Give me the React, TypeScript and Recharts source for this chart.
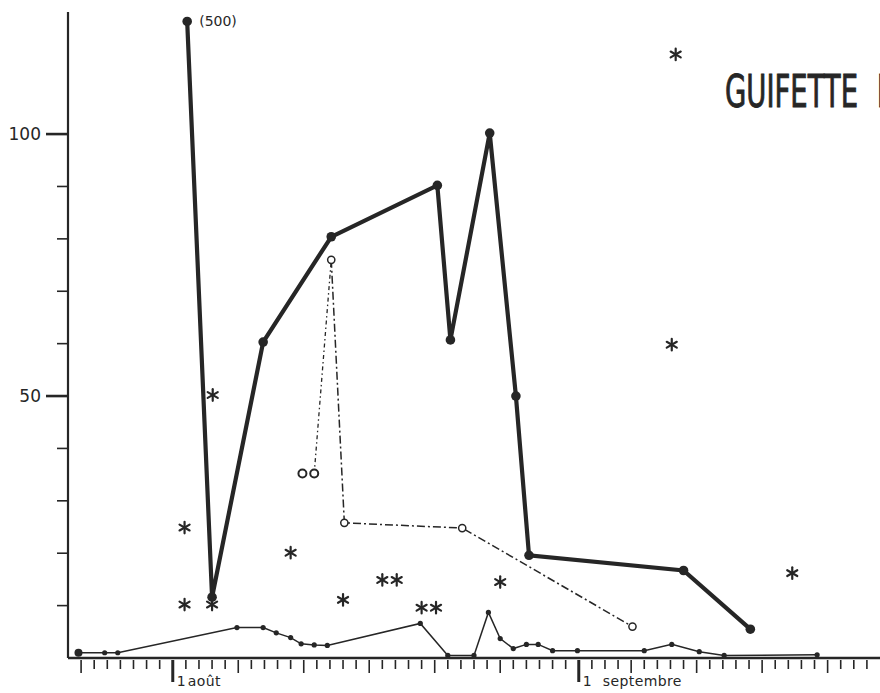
import { ComposedChart, Line, Scatter, XAxis, YAxis } from "recharts";

// days counted from 31 July (1 = 1 août, 32 = 1 septembre)
const mainDays = [2.1, 4, 7.9, 13.1, 21.2, 22.2, 25.2, 27.2, 28.2, 40, 45.1];
const mainCounts = [121.5, 11.6, 60.3, 80.4, 90.2, 60.7, 100.2, 50, 19.6, 16.7, 5.5];
const mainLabels = ["(500)", "", "", "", "", "", "", "", "", "", ""];

const openDays = [13.1, 14.1, 23.1, 36.1];
const openCounts = [76, 25.8, 24.8, 6];

const pairDays = [10.9, 11.8];
const pairCounts = [35.2, 35.2];

const lowDays = [
  -6.2, -4.2, -3.2, 5.9, 7.9, 8.9, 10, 10.8, 11.8, 12.8, 19.9, 22, 24, 25.1, 26, 27, 28, 28.9, 30,
  31.9, 37, 39.1, 41.2, 43.1, 50.2,
];
const lowCounts = [
  1, 1, 1, 5.8, 5.8, 4.8, 3.9, 2.7, 2.5, 2.4, 6.6, 0.5, 0.5, 8.7, 3.7, 1.8, 2.6, 2.6, 1.4, 1.4, 1.4,
  2.6, 1.2, 0.5, 0.6,
];

const starDays = [39.4, 39.1, 4.05, 1.9, 10, 1.9, 4, 14, 17, 18.1, 20, 21.1, 26, 48.3];
const starCounts = [115.2, 59.8, 50.2, 24.9, 20.1, 10.2, 10.2, 11.1, 14.9, 14.9, 9.6, 9.6, 14.5, 16.2];

const dayTicks = Array.from({ length: 61 }, (_, i) => i - 6);
const longDayTicks = [-6, 6, 11, 16, 21, 26, 36, 41, 46, 51];
const monthTicks: Record<number, string> = { 1: "août", 32: "septembre" };
const monthGap: Record<number, number> = { 1: 15, 32: 24 };

const countTicks = [10, 20, 30, 40, 50, 60, 70, 80, 90, 100];
const labelledCounts = [50, 100];

const INK = "#262626";
const AXIS_X = 68;
const AXIS_Y = 659;
const FONT = "'DejaVu Sans', sans-serif";
const TITLE_FONT = "'Liberation Sans Narrow', 'DejaVu Sans Condensed', sans-serif";

const zip = (ds: number[], vs: number[]) => ds.map((d, i) => ({ d, v: vs[i] }));

const mainData = mainDays.map((d, i) => ({ d, v: mainCounts[i], label: mainLabels[i] }));
const openData = zip(openDays, openCounts);
const pairData = zip(pairDays, pairCounts);
const riseData = [pairData[1], openData[0]];
const lowData = zip(lowDays, lowCounts);
const starData = zip(starDays, starCounts);

function Star({ cx, cy }: { cx?: number; cy?: number }) {
  if (cx == null || cy == null) return null;
  const r = 5.8;
  const arms = [90, 30, 150].map((a) => (a * Math.PI) / 180);
  return (
    <g stroke={INK} strokeWidth={2.2} strokeLinecap="round">
      {arms.map((a, i) => (
        <line
          key={i}
          x1={cx - r * Math.cos(a)}
          y1={cy - r * Math.sin(a)}
          x2={cx + r * Math.cos(a)}
          y2={cy + r * Math.sin(a)}
        />
      ))}
    </g>
  );
}

function DayTick(props: any) {
  const { x, payload } = props;
  const d = payload.value as number;
  const month = monthTicks[d];
  const long = longDayTicks.includes(d);
  return (
    <g>
      <line
        x1={x}
        x2={x}
        y1={AXIS_Y + 1}
        y2={month ? AXIS_Y + 23 : long ? AXIS_Y + 14 : AXIS_Y + 10}
        stroke={INK}
        strokeWidth={month ? 3 : 1.6}
      />
      {month && (
        <>
          <text x={x + 4} y={AXIS_Y + 27} fontSize={14} fontFamily={FONT} fill={INK}>
            1
          </text>
          <text
            x={x + monthGap[d]}
            y={AXIS_Y + 27}
            fontSize={14}
            letterSpacing={0.4}
            fontFamily={FONT}
            fill={INK}
          >
            {month}
          </text>
        </>
      )}
    </g>
  );
}

function CountTick(props: any) {
  const { y, payload } = props;
  const v = payload.value as number;
  const big = labelledCounts.includes(v);
  return (
    <g>
      <line
        x1={big ? AXIS_X - 22 : AXIS_X - 11}
        x2={AXIS_X}
        y1={y}
        y2={y}
        stroke={INK}
        strokeWidth={big ? 2.6 : 1.6}
      />
      {big && (
        <text x={AXIS_X - 27} y={y + 6} textAnchor="end" fontSize={17} fontFamily={FONT} fill={INK}>
          {v}
        </text>
      )}
    </g>
  );
}

function LowDot(props: any) {
  const { cx, cy, index } = props;
  return <circle key={index} cx={cx} cy={cy} r={index === 0 ? 4 : 2.6} fill={INK} stroke="none" />;
}

function OpenDot(props: any) {
  const { cx, cy, index } = props;
  return <circle key={index} cx={cx} cy={cy} r={3.6} fill="#fff" stroke={INK} strokeWidth={1.5} />;
}

function MainLabel(props: any) {
  const { x, y, index } = props;
  const text = mainLabels[index];
  if (!text) return null;
  return (
    <text x={x + 12} y={y + 5} fontSize={14} fontFamily={FONT} fill={INK}>
      {text}
    </text>
  );
}

export default function App() {
  return (
    <div style={{ position: "absolute", left: 0, top: 0, width: 880, height: 693, background: "#fff" }}>
      <ComposedChart width={880} height={693} margin={{ top: 12, right: 0, bottom: 0, left: 0 }}>
        <XAxis
          type="number"
          dataKey="d"
          domain={[-7, 55]}
          allowDataOverflow
          ticks={dayTicks}
          interval={0}
          tick={<DayTick />}
          tickLine={false}
          tickSize={0}
          tickMargin={0}
          height={35}
          axisLine={{ stroke: INK, strokeWidth: 2.6 }}
        />
        <YAxis
          type="number"
          dataKey="v"
          domain={[0, 123.3]}
          allowDataOverflow
          ticks={countTicks}
          interval={0}
          tick={<CountTick />}
          tickLine={false}
          tickSize={0}
          tickMargin={0}
          width={AXIS_X}
          axisLine={{ stroke: INK, strokeWidth: 2.2 }}
        />
        <Line
          data={lowData}
          dataKey="v"
          stroke={INK}
          strokeWidth={1.5}
          dot={<LowDot />}
          isAnimationActive={false}
        />
        <Line
          data={riseData}
          dataKey="v"
          stroke={INK}
          strokeWidth={1.3}
          strokeDasharray="4 3 1.5 3"
          dot={false}
          isAnimationActive={false}
        />
        <Line
          data={openData}
          dataKey="v"
          stroke={INK}
          strokeWidth={1.5}
          strokeDasharray="8 3 2 3"
          dot={<OpenDot />}
          isAnimationActive={false}
        />
        <Line
          data={mainData}
          dataKey="v"
          stroke={INK}
          strokeWidth={4.2}
          dot={{ r: 4.8, fill: INK, stroke: "none" }}
          label={<MainLabel />}
          isAnimationActive={false}
        />
        <Scatter
          data={pairData}
          dataKey="v"
          shape={(p: any) => (
            <circle cx={p.cx} cy={p.cy} r={4} fill="#fff" stroke={INK} strokeWidth={2} />
          )}
          isAnimationActive={false}
        />
        <Scatter data={starData} dataKey="v" shape={(p: any) => <Star cx={p.cx} cy={p.cy} />} isAnimationActive={false} />
      </ComposedChart>
      <svg
        width={880}
        height={693}
        style={{ position: "absolute", left: 0, top: 0, pointerEvents: "none" }}
      >
        <text
          x={725}
          y={107}
          fontSize={45}
          fontFamily={TITLE_FONT}
          textLength={133}
          lengthAdjust="spacingAndGlyphs"
          stroke={INK}
          strokeWidth={0.9}
          fill={INK}
        >
          GUIFETTE
        </text>
        <text
          x={877}
          y={107}
          fontSize={45}
          fontFamily={TITLE_FONT}
          textLength={80}
          lengthAdjust="spacingAndGlyphs"
          stroke={INK}
          strokeWidth={0.9}
          fill={INK}
        >
          NOIRE
        </text>
      </svg>
    </div>
  );
}
